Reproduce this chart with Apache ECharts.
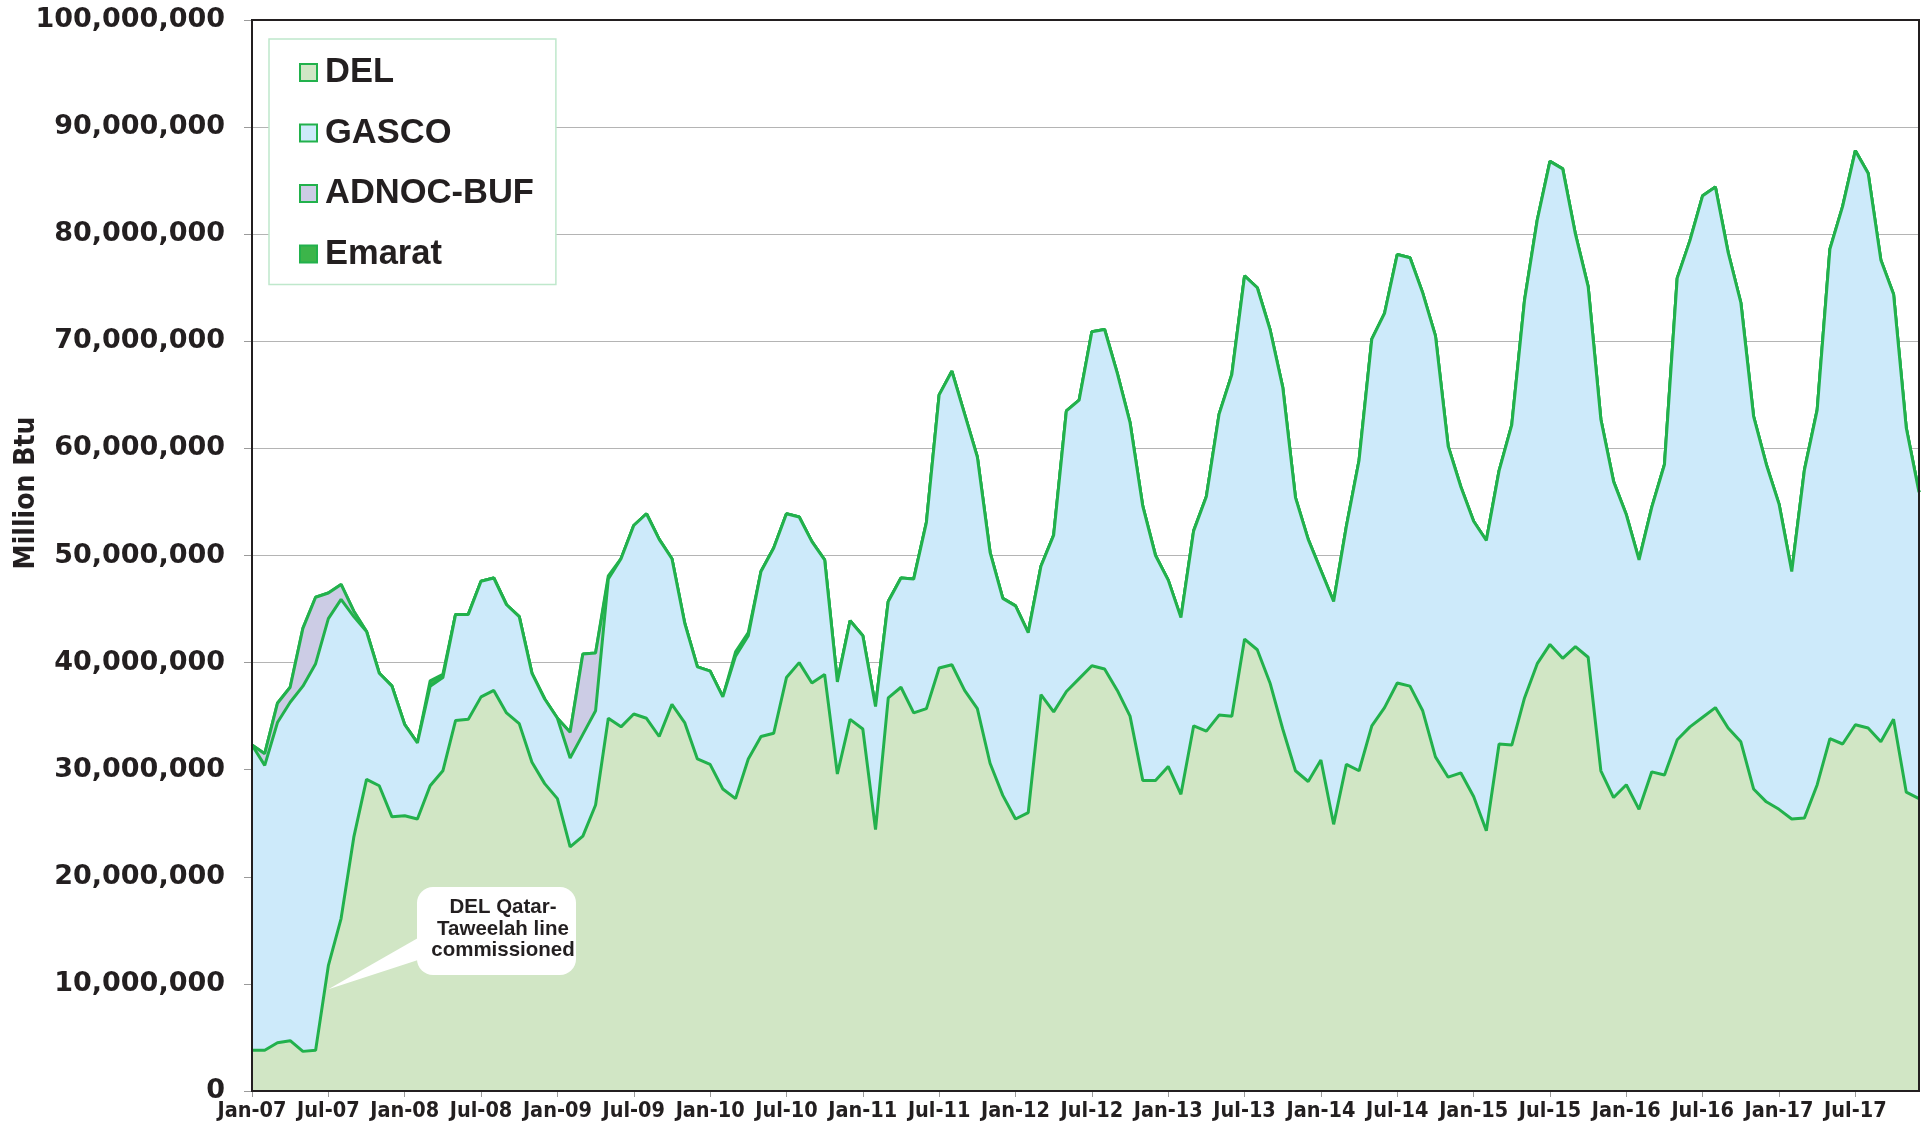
<!DOCTYPE html>
<html>
<head>
<meta charset="utf-8">
<script src="https://cdn.jsdelivr.net/npm/echarts/dist/echarts.min.js"></script>
<style>
html,body{margin:0;padding:0;background:#fff;}
#chart{width:1928px;height:1125px;}
</style>
</head>
<body>
<div id="chart"></div>
<script>
// Month labels Jan-07 .. Dec-17
const monthNames = ['Jan','Feb','Mar','Apr','May','Jun','Jul','Aug','Sep','Oct','Nov','Dec'];
const yearLabels = ['07','08','09','10','11','12','13','14','15','16','17'];
const categories = [];
yearLabels.forEach(y => monthNames.forEach(m => categories.push(m + '-' + y)));

const UNIT = 1e6; // values below are in millions of Btu

const DEL = [
  3.8, 3.8, 4.5, 4.7, 3.7, 3.8, 11.7, 16.1, 23.7, 29.1, 28.5, 25.6,
  25.7, 25.4, 28.5, 29.9, 34.6, 34.7, 36.8, 37.4, 35.3, 34.3, 30.7, 28.7,
  27.3, 22.8, 23.8, 26.7, 34.8, 34.0, 35.2, 34.8, 33.1, 36.1, 34.4, 31.0,
  30.5, 28.2, 27.3, 31.0, 33.1, 33.4, 38.6, 40.0, 38.1, 38.9, 29.6, 34.7,
  33.8, 24.4, 36.7, 37.7, 35.3, 35.7, 39.5, 39.8, 37.4, 35.7, 30.6, 27.6,
  25.4, 26.0, 37.0, 35.4, 37.3, 38.5, 39.7, 39.4, 37.4, 35.0, 29.0, 29.0,
  30.3, 27.7, 34.1, 33.6, 35.1, 35.0, 42.2, 41.2, 38.1, 33.8, 29.9, 28.9,
  30.9, 24.9, 30.5, 29.9, 34.1, 35.8, 38.1, 37.8, 35.5, 31.2, 29.3, 29.7,
  27.5, 24.3, 32.4, 32.3, 36.7, 39.9, 41.7, 40.4, 41.5, 40.5, 29.9, 27.4,
  28.6, 26.3, 29.8, 29.5, 32.8, 34.0, 34.9, 35.8, 33.9, 32.6, 28.2, 27.0,
  26.3, 25.4, 25.5, 28.6, 32.9, 32.4, 34.2, 33.9, 32.6, 34.7, 27.9, 27.3
];
const GASCO = [
  28.5, 26.6, 29.9, 31.6, 34.1, 36.1, 32.4, 29.8, 20.6, 13.8, 10.5, 12.2,
  8.5, 7.1, 9.3, 8.7, 9.9, 9.8, 10.8, 10.5, 10.1, 10.0, 8.3, 7.9,
  7.5, 8.3, 9.5, 8.8, 13.0, 15.7, 17.6, 19.1, 18.4, 13.6, 9.3, 8.6,
  8.7, 8.6, 13.3, 11.5, 15.4, 17.3, 15.3, 13.6, 13.2, 10.7, 8.6, 9.2,
  8.7, 11.5, 9.0, 10.2, 12.5, 17.4, 25.5, 27.4, 25.8, 23.5, 19.7, 18.4,
  19.9, 16.8, 12.0, 16.5, 26.2, 26.0, 31.2, 31.7, 29.6, 27.4, 25.6, 21.0,
  17.4, 16.5, 18.2, 21.9, 28.1, 31.9, 33.9, 33.8, 33.0, 31.9, 25.5, 22.6,
  17.7, 20.8, 22.2, 29.0, 36.1, 36.8, 40.0, 40.0, 39.0, 39.3, 30.9, 26.7,
  25.7, 27.1, 25.5, 29.9, 37.1, 41.4, 45.1, 45.7, 38.5, 34.6, 32.8, 29.5,
  25.2, 23.3, 24.7, 29.0, 43.1, 45.4, 48.7, 48.6, 44.4, 41.0, 34.8, 31.5,
  28.5, 23.1, 32.5, 35.0, 45.7, 50.2, 53.6, 51.8, 45.0, 39.7, 34.0, 28.6
];
const ADNOC_BUF = [
  0, 1.1, 1.8, 1.4, 5.4, 6.2, 2.4, 1.4, 0.5, 0, 0, 0,
  0, 0, 0, 0, 0, 0, 0, 0, 0, 0, 0, 0,
  0, 2.4, 7.5, 5.4, 0, 0, 0, 0, 0, 0, 0, 0,
  0, 0, 0, 0, 0, 0, 0, 0, 0, 0, 0, 0,
  0, 0, 0, 0, 0, 0, 0, 0, 0, 0, 0, 0,
  0, 0, 0, 0, 0, 0, 0, 0, 0, 0, 0, 0,
  0, 0, 0, 0, 0, 0, 0, 0, 0, 0, 0, 0,
  0, 0, 0, 0, 0, 0, 0, 0, 0, 0, 0, 0,
  0, 0, 0, 0, 0, 0, 0, 0, 0, 0, 0, 0,
  0, 0, 0, 0, 0, 0, 0, 0, 0, 0, 0, 0,
  0, 0, 0, 0, 0, 0, 0, 0, 0, 0, 0, 0
];
const EMARAT = [
  0, 0, 0, 0, 0, 0, 0, 0, 0, 0, 0, 0,
  0, 0, 0.5, 0.3, 0, 0, 0, 0, 0, 0, 0, 0,
  0, 0, 0, 0, 0.3, 0, 0, 0, 0, 0, 0, 0,
  0, 0, 0.4, 0.3, 0, 0, 0, 0, 0, 0, 0, 0,
  0, 0, 0, 0, 0, 0, 0, 0, 0, 0, 0, 0,
  0, 0, 0, 0, 0, 0, 0, 0, 0, 0, 0, 0,
  0, 0, 0, 0, 0, 0, 0, 0, 0, 0, 0, 0,
  0, 0, 0, 0, 0, 0, 0, 0, 0, 0, 0, 0,
  0, 0, 0, 0, 0, 0, 0, 0, 0, 0, 0, 0,
  0, 0, 0, 0, 0, 0, 0, 0, 0, 0, 0, 0,
  0, 0, 0, 0, 0, 0, 0, 0, 0, 0, 0, 0
];

const annotationText = 'DEL Qatar-\nTaweelah line\ncommissioned';
const annotationAt = ['Jul-07', 9.5]; // pointer tip (category, millions)

const LINE = '#22b14c';
const TEXT = '#231f20';
const CONDENSED = '"DejaVu Sans Condensed", "Liberation Sans", sans-serif';
const fills = { 'DEL': '#d1e6c5', 'GASCO': '#cdeafa', 'ADNOC-BUF': '#cccce5', 'Emarat': '#3cb54a' };

const fmt = v => String(v).replace(/\B(?=(\d{3})+(?!\d))/g, ',');
const labelEvery6 = idx => idx % 6 === 0;

function makeSeries(name, arr, z) {
  return {
    name: name, type: 'line', stack: 'total', z: z,
    data: arr.map(v => v * UNIT),
    showSymbol: false, symbol: 'none', smooth: false,
    lineStyle: { color: LINE, width: 3 },
    itemStyle: { color: fills[name] },
    areaStyle: { color: fills[name], opacity: 1 },
    emphasis: { disabled: true }
  };
}

const chart = echarts.init(document.getElementById('chart'), null, { renderer: 'canvas' });
const option = {
  backgroundColor: '#ffffff',
  animation: false,
  grid: { left: 252, right: 9, top: 20, bottom: 34, show: true, z: 10,
          backgroundColor: 'transparent', borderColor: TEXT, borderWidth: 2 },
  legend: {
    orient: 'vertical', left: 269, top: 39, z: 20,
    padding: [16, 22, 13, 30],
    backgroundColor: '#ffffff', borderColor: '#bfe8cc', borderWidth: 1.5,
    itemWidth: 17, itemHeight: 17, itemGap: 25.5, icon: 'rect',
    textStyle: { fontFamily: 'Liberation Sans', fontWeight: 'bold', fontSize: 34.5, color: TEXT, padding: [0, 0, 0, 3] },
    data: ['DEL', 'GASCO', 'ADNOC-BUF', 'Emarat'].map(n => ({
      name: n, itemStyle: { color: fills[n], borderColor: LINE, borderWidth: 2 }
    }))
  },
  xAxis: {
    type: 'category', data: categories, boundaryGap: false,
    axisLine: { show: false },
    axisTick: { show: true, interval: labelEvery6, length: 6, lineStyle: { color: '#9a9a9a' } },
    axisLabel: { interval: labelEvery6, margin: 9, color: TEXT, fontFamily: CONDENSED, fontWeight: 'bold', fontSize: 21.5 },
    splitLine: { show: false }
  },
  yAxis: {
    type: 'value', min: 0, max: 100000000, interval: 10000000,
    axisLine: { show: false },
    axisTick: { show: true, length: 8, lineStyle: { color: '#9a9a9a' } },
    axisLabel: { formatter: fmt, margin: 27, color: TEXT, fontFamily: 'DejaVu Sans', fontWeight: 'bold', fontSize: 27 },
    splitLine: { show: true, lineStyle: { color: '#b4b4b4', width: 1.2 } }
  },
  series: [
    makeSeries('DEL', DEL, 6),
    makeSeries('GASCO', GASCO, 5),
    makeSeries('ADNOC-BUF', ADNOC_BUF, 4),
    makeSeries('Emarat', EMARAT, 3)
  ]
};
chart.setOption(option);

const tip = chart.convertToPixel({ gridIndex: 0 }, [categories.indexOf(annotationAt[0]), annotationAt[1] * UNIT]);
chart.setOption({
  graphic: [
    { type: 'polygon', z: 30, shape: { points: [[418, 938], [418, 960], tip] }, style: { fill: '#ffffff' } },
    { type: 'rect', z: 30, shape: { x: 417, y: 887, width: 159, height: 88, r: 16 }, style: { fill: '#ffffff' } },
    { type: 'text', z: 31, x: 503, y: 929,
      style: { text: annotationText, fill: TEXT, font: 'bold 20.5px "Liberation Sans"', align: 'center', verticalAlign: 'middle', lineHeight: 21.5 } },
    { type: 'text', z: 31, x: 27, y: 493, rotation: Math.PI / 2,
      style: { text: 'Million Btu', fill: TEXT, font: 'bold 28px ' + CONDENSED, align: 'center', verticalAlign: 'middle' } }
  ]
});
</script>
</body>
</html>
